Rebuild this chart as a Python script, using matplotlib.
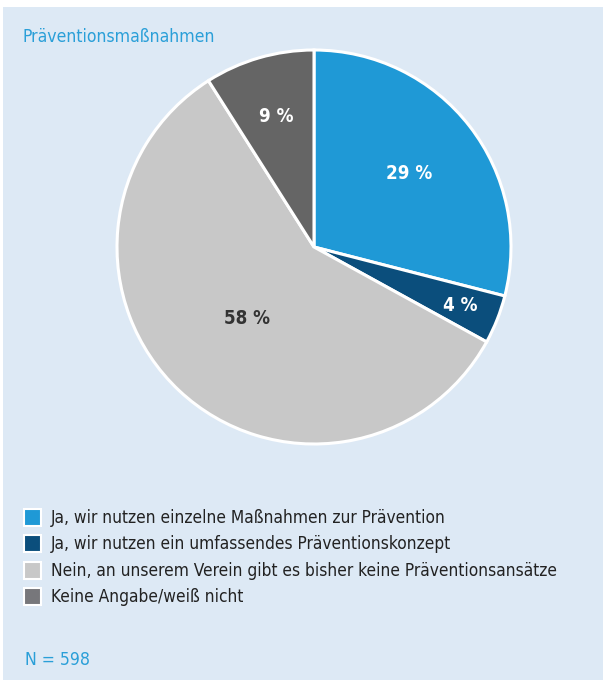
import numpy as np
import matplotlib
matplotlib.use("Agg")
import matplotlib.pyplot as plt
from matplotlib.patches import Rectangle

# Präventionsmaßnahmen der Vereine (Anteile in %)
kategorien = [
    "Ja, wir nutzen einzelne Maßnahmen zur Prävention",
    "Ja, wir nutzen ein umfassendes Präventionskonzept",
    "Nein, an unserem Verein gibt es bisher keine Präventionsansätze",
    "Keine Angabe/weiß nicht",
]
anteile = [29, 4, 58, 9]
farben = ["#1f99d6", "#0b4e7c", "#c8c8c8", "#656565"]
legenden_farben = ["#1f99d6", "#0b4e7c", "#c8c8c8", "#77777b"]
text_farben = ["white", "white", "#333333", "white"]
# radialer Abstand der Beschriftung (Anteil vom Radius)
label_abstand = [0.61, 0.80, 0.50, 0.69]
titel = "Präventionsmaßnahmen"
fallzahl = "N = 598"

BG = "#dde9f5"
BLAU = "#2a9fd8"
plt.rcParams["font.family"] = ["DejaVu Sans"]
plt.rcParams["font.stretch"] = "condensed"

W, H = 603, 680
fig = plt.figure(figsize=(W / 100, H / 100), dpi=100, facecolor="white")
ax = fig.add_axes([0, 0, 1, 1])

# Pixelkoordinaten, y von oben gezählt
def py(y):
    return H - y

ax.add_patch(Rectangle((3, 0), W - 3, H - 7, facecolor=BG, edgecolor="none", zorder=0))

cx, cy, r = 314, py(247), 197
wedges, _ = ax.pie(anteile, colors=farben, startangle=90, counterclock=False,
                   center=(cx, cy), radius=r, frame=True,
                   wedgeprops=dict(edgecolor="white", linewidth=2.2))
ax.set_xlim(0, W)
ax.set_ylim(0, H)
ax.axis("off")

for w, wert, d, tc in zip(wedges, anteile, label_abstand, text_farben):
    mitte = np.deg2rad((w.theta1 + w.theta2) / 2)
    ax.text(cx + d * r * np.cos(mitte), cy + d * r * np.sin(mitte), f"{wert} %",
            ha="center", va="center", fontsize=13.5, fontweight="bold", color=tc,
            fontstretch="condensed")

ax.text(22, py(37), titel, ha="left", va="center", fontsize=12.6, color=BLAU,
        fontstretch="condensed")

# Legende
y0, dy = 518, 26.3
for i, (kat, fc) in enumerate(zip(kategorien, legenden_farben)):
    y = py(y0 + i * dy)
    ax.add_patch(Rectangle((24, y - 8), 17, 17, facecolor=fc, edgecolor="white", linewidth=1.5))
    ax.text(51, y, kat, ha="left", va="center", fontsize=12.4, color="#222222",
            fontstretch="condensed")

ax.text(25, py(660), fallzahl, ha="left", va="center", fontsize=12.6, color=BLAU,
        fontstretch="condensed")

fig.savefig("out.png", dpi=100, facecolor="white")
